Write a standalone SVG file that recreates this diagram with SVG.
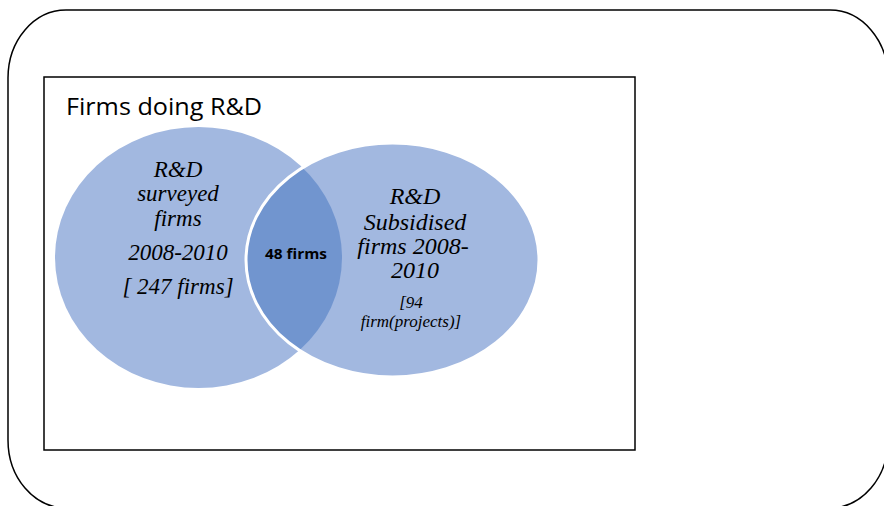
<svg xmlns="http://www.w3.org/2000/svg" width="884" height="506" viewBox="0 0 884 506">
<defs>
<style>
.frame{fill:none;stroke:#000;stroke-width:1.5}
.set{fill:#a2b8e0}
.lens{fill:#7195cf}
.it{font-family:"Liberation Serif","Times New Roman",serif;font-style:italic;fill:#000;text-anchor:middle}
</style>
<clipPath id="clipLeft"><ellipse cx="198.5" cy="257.5" rx="143.5" ry="130.5"/></clipPath>
</defs>
<rect class="frame" x="8" y="10" width="880" height="498" rx="58" ry="68"/>
<rect class="frame" x="44" y="77" width="591" height="373"/>
<text x="66" y="115" font-family="'Open Sans','Noto Sans',sans-serif" font-size="23" textLength="196" lengthAdjust="spacingAndGlyphs">Firms doing R&amp;D</text>
<g id="surveyed">
<ellipse class="set" cx="198.5" cy="257.5" rx="143.5" ry="130.5"/>
<text class="it" font-size="23"><tspan x="178" y="177">R&amp;D</tspan><tspan x="178" y="201">surveyed</tspan><tspan x="178" y="226">firms</tspan><tspan x="178" y="260">2008-2010</tspan><tspan x="178" y="294">[ 247 firms]</tspan></text>
</g>
<g id="subsidised">
<ellipse class="set" cx="392.5" cy="260" rx="146.5" ry="117"/>
<ellipse class="lens" cx="392.5" cy="260" rx="146.5" ry="117" clip-path="url(#clipLeft)"/>
<ellipse cx="392.5" cy="260" rx="146.5" ry="117" fill="none" stroke="#fff" stroke-width="3"/>
<text class="it" font-size="24"><tspan x="415" y="204">R&amp;D</tspan><tspan x="415" y="230">Subsidised</tspan><tspan x="413" y="254">firms 2008-</tspan><tspan x="415" y="278">2010</tspan></text>
<text class="it" font-size="17"><tspan x="411" y="308">[94</tspan><tspan x="411" y="327">firm(projects)]</tspan></text>
</g>
<g id="overlap">
<text x="296" y="259" font-family="'Open Sans','Noto Sans',sans-serif" font-weight="bold" font-size="14" text-anchor="middle" textLength="62" lengthAdjust="spacingAndGlyphs">48 firms</text>
</g>
<g id="connectors"/>
</svg>
